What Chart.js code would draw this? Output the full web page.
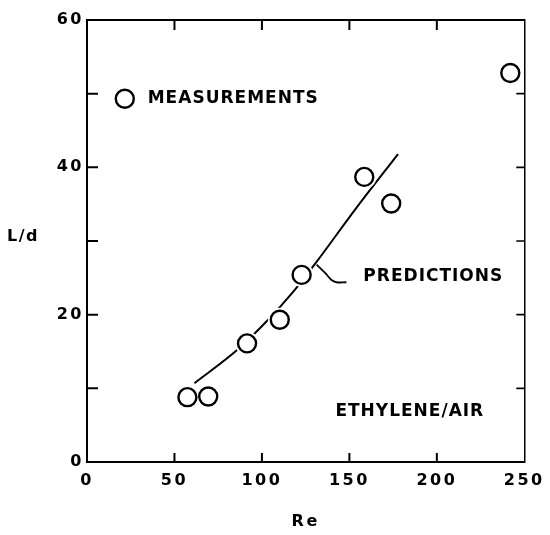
<!DOCTYPE html>
<html lang="en">
<head>
  <meta charset="UTF-8">
  <title>L/d vs Re - Ethylene/Air</title>
  <script src="https://cdn.jsdelivr.net/npm/chart.js"></script>
  <style>
    html, body { margin: 0; padding: 0; background: #fff; }
    #wrap { width: 550px; height: 535px; }
  </style>
</head>
<body>
  <div id="wrap"><canvas id="ldChart" width="550" height="535"></canvas></div>
  <script>
    const measRe = [57.4, 69.3, 91.5, 110.2, 122.7, 158.5, 173.9, 242];
    const measLd = [8.8, 8.9, 16.1, 19.3, 25.4, 38.7, 35.1, 52.8];
    // prediction curve
    const predRe = [61.4, 85.8, 102.3, 118.2, 130.7, 154, 177.8];
    const predLd = [10.7, 15.2, 19.0, 23.2, 27.0, 34.5, 41.8];
    // leader from the curve to the PREDICTIONS label
    const leaderRe = [131.3, 136.4, 139.8, 142.6, 148.3];
    const leaderLd = [26.8, 25.6, 24.7, 24.4, 24.4];
    // legend marker + annotation text (in data units)
    const legendMarker = {x: 21.6, y: 49.3};
    const notes = [
      {text: 'MEASUREMENTS', x: 34.7, y: 49.4},
      {text: 'PREDICTIONS', x: 158, y: 25.2},
      {text: 'ETHYLENE/AIR', x: 142, y: 6.85}
    ];
    const xTickStep = 50;
    const yTickStep = 10;

    const FONT = "'DejaVu Sans', sans-serif";
    const toPts = (xs, ys) => xs.map((x, i) => ({x, y: ys[i]}));

    // ticks point inward on all four sides
    const inwardTicks = {
      id: 'inwardTicks',
      afterDatasetsDraw(chart) {
        const ctx = chart.ctx;
        const a = chart.chartArea;
        const s = chart.scales;
        ctx.save();
        ctx.strokeStyle = '#000';
        ctx.lineWidth = 2;
        ctx.beginPath();
        s.x.ticks.forEach(t => {
          if (t.value <= s.x.min || t.value >= s.x.max) return;
          const px = s.x.getPixelForValue(t.value);
          ctx.moveTo(px, a.bottom); ctx.lineTo(px, a.bottom - 9);
          ctx.moveTo(px, a.top); ctx.lineTo(px, a.top + 10);
        });
        s.y.ticks.forEach(t => {
          if (t.value <= s.y.min || t.value >= s.y.max) return;
          const py = s.y.getPixelForValue(t.value);
          ctx.moveTo(a.left, py); ctx.lineTo(a.left + 11, py);
        });
        ctx.stroke();
        ctx.lineWidth = 1.6;
        ctx.beginPath();
        s.y.ticks.forEach(t => {
          if (t.value <= s.y.min || t.value >= s.y.max) return;
          const py = s.y.getPixelForValue(t.value);
          ctx.moveTo(a.right, py); ctx.lineTo(a.right - 8, py);
        });
        ctx.stroke();
        ctx.restore();
      }
    };

    const annotations = {
      id: 'annotations',
      beforeDraw(chart) {
        chart.ctx.letterSpacing = '2.5px';
      },
      afterDraw(chart) {
        const ctx = chart.ctx;
        const {x, y} = chart.scales;
        ctx.save();
        ctx.fillStyle = '#000';
        ctx.textBaseline = 'middle';
        ctx.textAlign = 'left';
        ctx.letterSpacing = '1px';
        ctx.font = "bold 17px " + FONT;
        notes.forEach(n => ctx.fillText(n.text, x.getPixelForValue(n.x), y.getPixelForValue(n.y)));
        ctx.letterSpacing = '1.5px';
        ctx.font = "bold 16px " + FONT;
        ctx.fillText('L/d', 7, (chart.chartArea.top + chart.chartArea.bottom) / 2 - 4);
        ctx.restore();
      }
    };

    new Chart(document.getElementById('ldChart'), {
      type: 'scatter',
      data: {
        datasets: [
          {
            label: 'Measurements',
            data: toPts(measRe, measLd),
            pointRadius: 9,
            pointBorderWidth: 2.4,
            pointBorderColor: '#000',
            pointBackgroundColor: '#fff',
            showLine: false
          },
          {
            label: 'Legend marker',
            data: [legendMarker],
            pointRadius: 9,
            pointBorderWidth: 2.4,
            pointBorderColor: '#000',
            pointBackgroundColor: '#fff',
            showLine: false
          },
          {
            // white halo so the curve stops short of each circle
            label: 'halo',
            data: toPts(measRe, measLd),
            pointRadius: 12,
            pointBorderWidth: 0,
            pointBackgroundColor: '#fff',
            showLine: false
          },
          {
            label: 'Predictions',
            data: toPts(predRe, predLd),
            showLine: true,
            borderColor: '#000',
            borderWidth: 2,
            pointRadius: 0,
            cubicInterpolationMode: 'monotone'
          },
          {
            label: 'leader',
            data: toPts(leaderRe, leaderLd),
            showLine: true,
            borderColor: '#000',
            borderWidth: 1.8,
            pointRadius: 0,
            tension: 0.4
          }
        ]
      },
      options: {
        responsive: false,
        animation: false,
        events: [],
        layout: { padding: 0 },
        plugins: { legend: { display: false }, tooltip: { enabled: false } },
        scales: {
          x: {
            type: 'linear', position: 'bottom', min: 0, max: 250,
            grid: { display: false, drawTicks: false },
            border: { display: true, color: '#000', width: 2 },
            ticks: { stepSize: xTickStep, autoSkip: false, maxRotation: 0, padding: 9, color: '#000',
                     font: { family: FONT, size: 16, weight: 'bold' } },
            title: { display: true, text: 'Re', color: '#000', padding: { top: 0, bottom: 4 },
                     font: { family: FONT, size: 16, weight: 'bold' } },
            afterFit(scale) { scale.height = 73; }
          },
          x2: {
            type: 'linear', position: 'top', min: 0, max: 250,
            grid: { display: false, drawTicks: false },
            border: { display: true, color: '#000', width: 2 },
            ticks: { display: false },
            afterFit(scale) { scale.height = 20; }
          },
          y: {
            type: 'linear', position: 'left', min: 0, max: 60,
            grid: { display: false, drawTicks: false },
            border: { display: true, color: '#000', width: 2 },
            ticks: { stepSize: yTickStep, autoSkip: false, padding: 3, color: '#000',
                     font: { family: FONT, size: 16, weight: 'bold' },
                     callback: v => (v % 20 === 0 ? String(v) : '') },
            afterFit(scale) { scale.width = 87; }
          },
          y2: {
            type: 'linear', position: 'right', min: 0, max: 60,
            grid: { display: false, drawTicks: false },
            border: { display: true, color: '#000', width: 1.5, dash: [4, 3] },
            ticks: { display: false },
            afterFit(scale) { scale.width = 23; }
          }
        }
      },
      plugins: [annotations, inwardTicks]
    });
  </script>
</body>
</html>
